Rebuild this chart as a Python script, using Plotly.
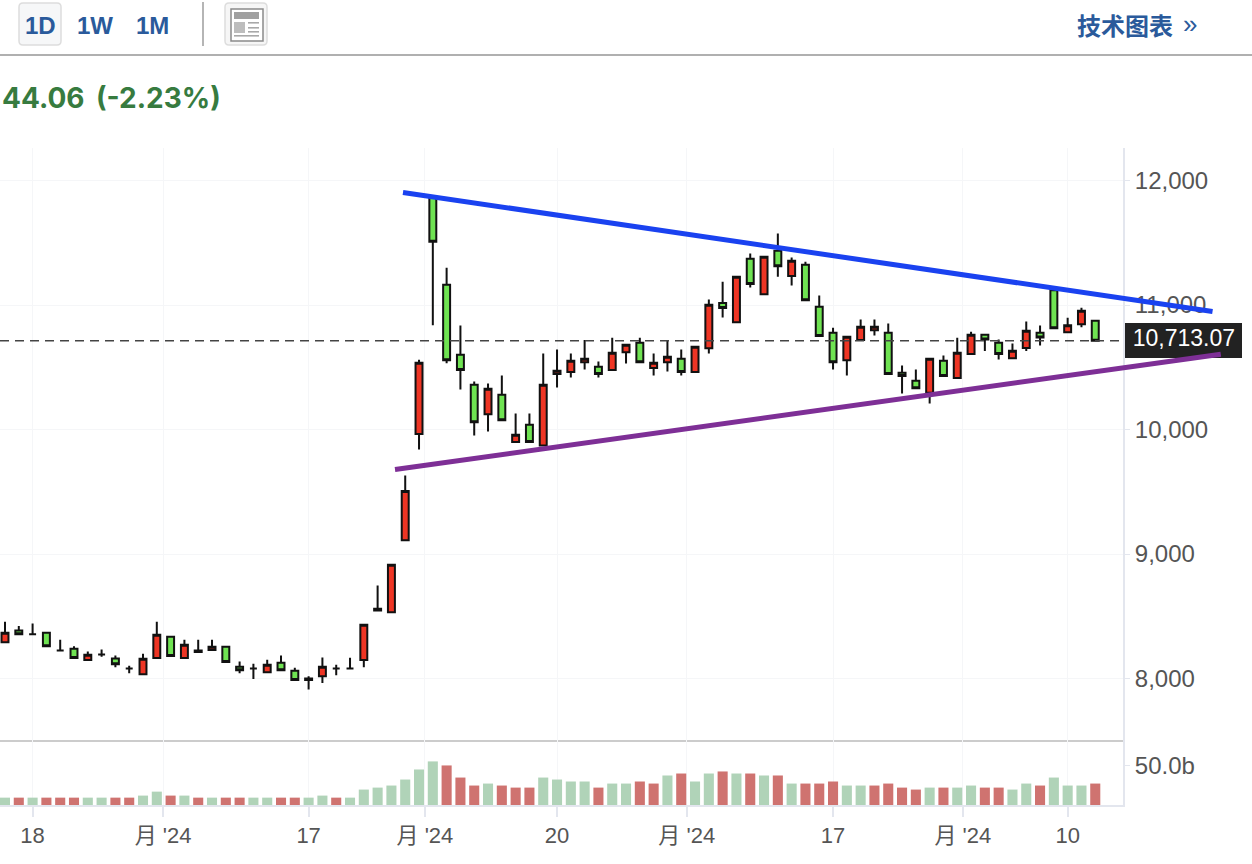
import plotly.graph_objects as go

# ---------- data ----------
candle_dirs = ("rgdgdgrdgd" "rrgrrrggdr" "ggrrddrrrr"
               "rggggrgrgr" "rrrgrrgrrg" "rrgrgrgrgg"
               "grrrgggrgr" "rggrrggrrg")
highs = [8455,8421,8442,8367,8311,8260,8217,8233,8185,8102,
         8198,8455,8335,8311,8311,8311,8255,8137,8118,8150,
         8185,8086,8019,8169,8110,8166,8431,8747,8913,9631,
         10560,11870,11299,10835,10386,10370,10434,10129,10129,10611,
         10643,10611,10718,10546,10736,10680,10736,10611,10712,10643,
         10664,11044,11186,11227,11414,11387,11575,11382,11347,11077,
         10817,10745,10884,10884,10852,10514,10482,10568,10595,10737,
         10785,10761,10723,10691,10868,10836,11138,10897,10978,10873]
body_tops = [8367,8386,8356,8367,8225,8238,8190,8193,8161,8081,
             8158,8351,8335,8271,8225,8255,8255,8094,8081,8110,
             8126,8062,8000,8094,8081,8081,8431,8560,8913,9507,
             10536,11861,11162,10600,10359,10327,10279,9957,10038,10359,
             10471,10552,10568,10504,10616,10680,10696,10536,10584,10568,
             10664,11001,11017,11227,11371,11387,11435,11355,11323,10986,
             10777,10745,10825,10825,10777,10456,10391,10568,10552,10616,
             10761,10761,10696,10632,10793,10777,11119,10838,10953,10873]
body_bottoms = [8292,8356,8356,8260,8225,8164,8148,8193,8115,8081,
                8035,8164,8180,8164,8212,8228,8132,8067,8081,8051,
                8067,7987,7987,8019,8081,8081,8148,8546,8533,9111,
                9963,11507,10557,10477,10059,10123,10075,9899,9899,9872,
                10445,10461,10541,10445,10477,10621,10541,10493,10541,10461,
                10461,10653,10975,10862,11168,11087,11312,11232,11039,10750,
                10541,10557,10718,10798,10445,10429,10332,10295,10429,10413,
                10606,10723,10606,10573,10654,10739,10814,10782,10846,10713]
lows = [8292,8356,8356,8260,8225,8164,8148,8174,8091,8043,
        8035,8164,8180,8164,8212,8228,8132,8043,7995,8051,
        8067,7987,7912,7963,8027,8081,8091,8546,8533,9111,
        9840,10838,10533,10321,9952,9984,10075,9899,9899,9872,
        10338,10418,10482,10418,10477,10530,10541,10434,10466,10434,
        10461,10611,10900,10862,11141,11087,11227,11157,11039,10750,
        10482,10434,10718,10755,10445,10290,10332,10209,10429,10413,
        10606,10630,10563,10573,10630,10675,10814,10782,10822,10713]
volumes = [9.3,9.3,9.3,9.3,9.3,9.3,9.3,9.3,9.3,9.3,
           11.9,16.9,11.9,11.9,9.3,9.3,9.3,9.3,9.3,9.3,
           9.3,9.3,9.3,11.9,9.3,9.3,19.5,22,24.6,32.2,
           44.9,55.1,50,34.7,24.6,27.1,24.6,22,22,34.7,
           32.2,29.7,29.7,22,27.1,27.1,29.7,27.1,37.3,39.8,
           29.7,39.8,42.4,39.8,39.8,37.3,37.3,27.1,27.1,27.1,
           29.7,24.6,24.6,24.6,27.1,22,19.5,22,22,22,
           24.6,22,22,19.5,27.1,24.6,34.7,24.6,24.6,27.1]
volume_dirs = ("grgrrrggrr" "ggrgrgrrgg" "rrggrggggg" "ggrrrgrrrg"
               "gggrggrrgr" "ggrgrgrgrr" "rggrrrrgrg" "grrggrgggr")
last_price = 10713.07
blue_line_x, blue_line_y = [28.84, 87.5], [11904, 10948]
purple_line_x, purple_line_y = [28.26, 88.1], [9679, 10605]
x_tick_pos = [2, 11.45, 22, 30.43, 40, 49.4, 60, 69.4, 77]
x_tick_labels = ["18", "月 '24", "17", "月 '24", "20", "月 '24", "17", "月 '24", "10"]
y_ticks = [8000, 9000, 10000, 11000, 12000]
y_tick_labels = ["8,000", "9,000", "10,000", "11,000", "12,000"]
vol_ticks = [50]
vol_tick_labels = ["50.0b"]

# ---------- derived ----------
xs = list(range(len(highs)))
opens = [b if d == "r" else t for d, t, b in zip(candle_dirs, body_tops, body_bottoms)]
closes = [t if d == "r" else b for d, t, b in zip(candle_dirs, body_tops, body_bottoms)]
vol_colors = ["#B0D3B8" if d == "g" else "#CF7370" for d in volume_dirs]

W, H = 1252, 864
px = lambda v: v / W
py = lambda v: 1 - v / H
XR = [-0.362, 81.01]
XR_FULL = [-0.362, 90.36]
YR = [7498, 12261]
SANS = "Liberation Sans, Arial, sans-serif"
BLUE = "#2A5A9B"

fig = go.Figure()
fig.add_trace(go.Scatter(x=XR, y=[last_price, last_price], mode="lines",
                         line=dict(color="#444444", width=1.5, dash="9px,6px"), hoverinfo="skip"))
fig.add_trace(go.Candlestick(x=xs, open=opens, high=highs, low=lows, close=closes,
                             increasing=dict(fillcolor="#EE3524", line=dict(color="#111111", width=2)),
                             decreasing=dict(fillcolor="#6FE352", line=dict(color="#111111", width=2)),
                             whiskerwidth=0))
fig.add_trace(go.Bar(x=xs, y=volumes, marker=dict(color=vol_colors, line=dict(width=0)),
                     xaxis="x2", yaxis="y2"))
fig.add_trace(go.Scatter(x=[81.72], y=[last_price], mode="text", text=[f"{last_price:,.2f}"],
                         textposition="middle right", xaxis="x3", yaxis="y3",
                         textfont=dict(color="white", size=23, family=SANS), hoverinfo="skip"))
fig.add_trace(go.Scatter(x=blue_line_x, y=blue_line_y, mode="lines", xaxis="x3", yaxis="y3",
                         line=dict(color="#1A42F0", width=5), hoverinfo="skip"))
fig.add_trace(go.Scatter(x=purple_line_x, y=purple_line_y, mode="lines", xaxis="x3", yaxis="y3",
                         line=dict(color="#7E2F96", width=5), hoverinfo="skip"))

shapes = []
def rect(x0, y0, x1, y1, fill="rgba(0,0,0,0)", line=None, lw=0, layer="above"):
    shapes.append(dict(type="rect", xref="paper", yref="paper", x0=px(x0), x1=px(x1), y0=py(y0), y1=py(y1),
                       fillcolor=fill, line=dict(color=line or "rgba(0,0,0,0)", width=lw), layer=layer))
def rrect(x0, y0, x1, y1, r, fill, line, lw):
    a, b, c, d = px(x0), px(x1), py(y0), py(y1)
    rx, ry = r / W, r / H
    path = (f"M{a+rx},{c} L{b-rx},{c} Q{b},{c} {b},{c-ry} L{b},{d+ry} Q{b},{d} {b-rx},{d} "
            f"L{a+rx},{d} Q{a},{d} {a},{d+ry} L{a},{c-ry} Q{a},{c} {a+rx},{c} Z")
    shapes.append(dict(type="path", xref="paper", yref="paper", path=path, fillcolor=fill,
                       line=dict(color=line, width=lw), layer="above"))

rrect(19, 3, 61, 45, 4, "#F6F7F8", "#DDDDDD", 1.5)
rect(202, 2, 204, 46, fill="#B5B5B5")
rect(0, 54, W, 56, fill="#B0B0B0")
rrect(225, 3, 267, 45, 4, "#F6F6F6", "#DDDDDD", 1.5)
rect(231, 9, 263, 41, fill="#FFFFFF", line="#8A8A8A", lw=1.5)
rect(234, 12, 259, 19, fill="#A0A0A0")
rect(234, 22, 245, 33, fill="#BDBDBD")
for yy in (22, 27, 31):
    rect(248, yy, 259, yy + 1.6, fill="#A8A8A8")
rect(234, 35, 259, 36.6, fill="#A8A8A8")
rect(0, 740, 1123, 742, fill="#CCCCCC", layer="below")
rect(1123, 323, 1242, 358, fill="#222222", layer="below")

def note(x, y, text, size, color, anchor="left", weight=400, family=SANS):
    return dict(x=px(x), y=py(y), xref="paper", yref="paper", text=text, showarrow=False,
                xanchor=anchor, yanchor="middle",
                font=dict(size=size, color=color, family=family, weight=weight))

ax_common = dict(range=XR, tickmode="array", tickvals=x_tick_pos, showgrid=True, gridcolor="#F5F6F8",
                 gridwidth=1, zeroline=False)
fig.update_layout(
    width=W, height=H, autosize=False, margin=dict(l=0, r=0, t=0, b=0),
    paper_bgcolor="white", plot_bgcolor="rgba(0,0,0,0)", showlegend=False, bargap=0.27, boxgap=0.28,
    font=dict(family=SANS),
    xaxis=dict(domain=[0, px(1123)], anchor="y", showticklabels=False, ticks="",
               rangeslider=dict(visible=False), **ax_common),
    xaxis2=dict(domain=[0, px(1123)], anchor="y2", ticktext=x_tick_labels, ticks="outside", ticklen=10,
                tickcolor="#E3E6EE", tickwidth=2, showline=True, linecolor="#E3E6EE", linewidth=2,
                tickfont=dict(size=22, color="#555555", family="Liberation Sans, Noto Sans CJK SC"), **ax_common),
    xaxis3=dict(domain=[0, 1], range=XR_FULL, anchor="y3", visible=False, fixedrange=True),
    yaxis=dict(domain=[py(741), py(148)], range=YR, side="right", anchor="x", tickmode="array",
               tickvals=y_ticks, ticktext=y_tick_labels, ticks="outside", ticklen=5, tickcolor="#E3E6EE",
               showgrid=True, gridcolor="#F5F6F8", zeroline=False, showline=True, linecolor="#E3E6EE", linewidth=2,
               tickfont=dict(size=24, color="#555555")),
    yaxis2=dict(domain=[py(805), py(741)], range=[0, 80.9], side="right", anchor="x2", tickmode="array",
                tickvals=vol_ticks, ticktext=vol_tick_labels, ticks="outside", ticklen=5, tickcolor="#E3E6EE",
                showgrid=False, zeroline=False, showline=True, linecolor="#E3E6EE", linewidth=2,
                tickfont=dict(size=24, color="#555555")),
    yaxis3=dict(domain=[py(741), py(148)], range=YR, anchor="x3", visible=False, fixedrange=True),
    shapes=shapes,
    annotations=[
        note(40, 25, "1D", 24, BLUE, "center", 700),
        note(95, 25, "1W", 24, BLUE, "center", 700),
        note(152, 25, "1M", 24, BLUE, "center", 700),
        note(1075, 24, "技术图表", 24, BLUE, "left", 700, "Noto Sans CJK SC"),
        note(1181, 24, "»", 26, BLUE, "left", 400),
        note(0, 98, "44.06", 28, "#377B3F", "left", 700, "Inter, Liberation Sans"),
        note(223, 98, "(-2.23%)", 28, "#377B3F", "right", 700, "Inter, Liberation Sans"),
    ],
)
fig.write_html("out.html", post_script="document.body.style.margin='0';", config=dict(displayModeBar=False))
